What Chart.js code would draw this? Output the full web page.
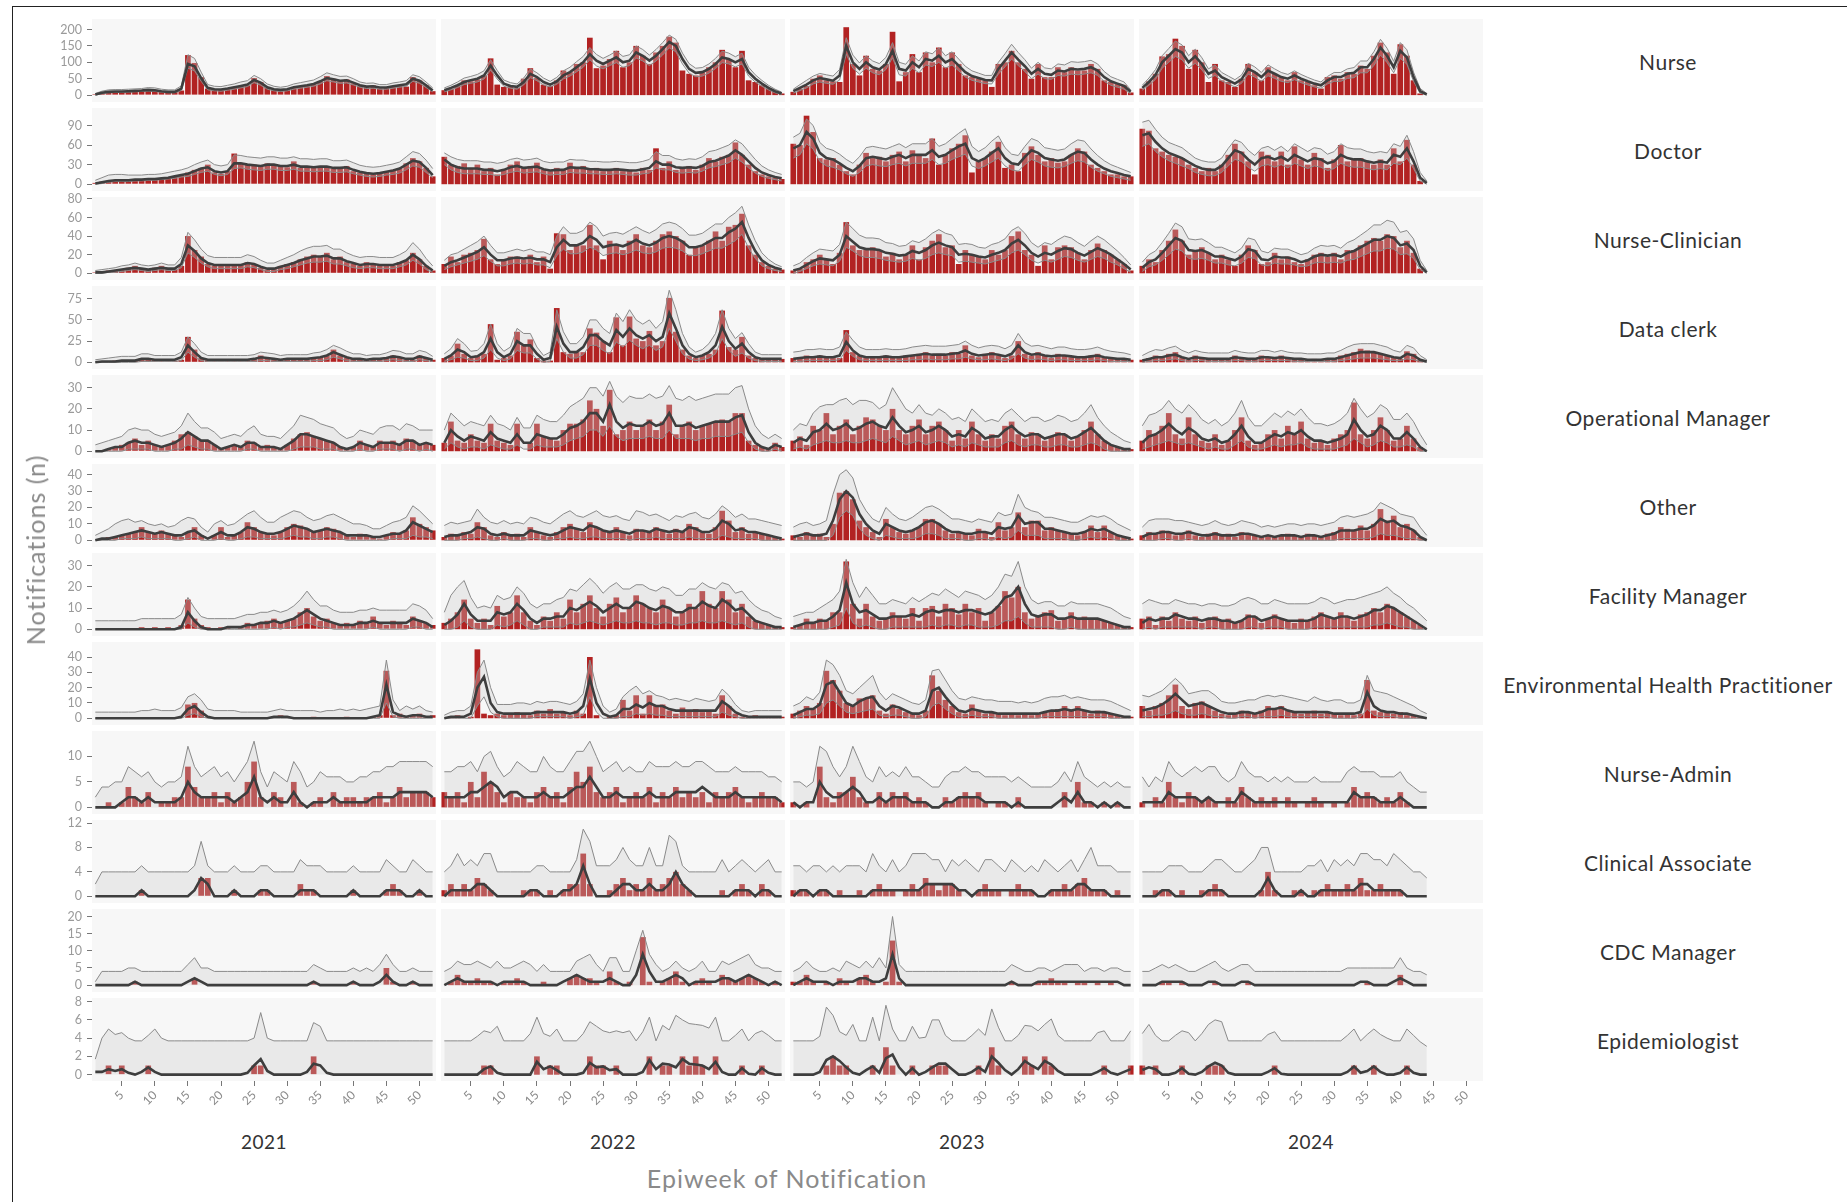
<!DOCTYPE html>
<html>
<head>
<meta charset="utf-8">
<script src="https://cdn.jsdelivr.net/npm/chart.js@4.4.1/dist/chart.umd.min.js"></script>
<style>
  body { margin: 0; background: #fff; font-family: Lato, "Open Sans", sans-serif; }
  #wrap { position: relative; width: 1847px; height: 1202px; overflow: hidden; }
  #wrap canvas { position: absolute; }
  .txt { position: absolute; white-space: nowrap; transform: translate(-50%, -50%); }
  .row-lbl { font-size: 21px; letter-spacing: 0.5px; color: #333; }
  .year-lbl { font-size: 19px; letter-spacing: 0.5px; color: #333; }
  .axis-title { font-size: 25px; letter-spacing: 1px; color: #8a8a8a; }
  #frame { position: absolute; left: 12px; top: 6px; width: 1900px; height: 1300px; border: 1px solid #222; }
</style>
</head>
<body>
<div id="wrap"><div id="frame"></div></div>
<script>
// facets
const rowNames = ['Nurse', 'Doctor', 'Nurse-Clinician', 'Data clerk', 'Operational Manager', 'Other',
  'Facility Manager', 'Environmental Health Practitioner', 'Nurse-Admin', 'Clinical Associate', 'CDC Manager', 'Epidemiologist'];
const yearNames = ['2021', '2022', '2023', '2024'];
const xTickLabels = [5, 10, 15, 20, 25, 30, 35, 40, 45, 50];
const weeks = Array.from({ length: 52 }, (_, i) => i + 1);

// weekly notifications (bars), fitted line, upper / lower band, one list per year
const nurseN = [
  [3,8,12,12,10,14,14,16,18,16,12,10,10,14,122,98,55,20,18,16,20,25,28,30,52,40,22,16,14,18,24,28,30,34,42,58,50,44,48,36,28,24,30,20,22,28,30,26,55,45,30,12],
  [15,20,30,45,42,48,60,112,32,25,28,22,50,82,52,32,28,45,75,70,95,100,175,82,90,110,135,85,100,150,120,95,130,150,178,160,75,65,60,70,85,100,138,110,85,135,45,40,30,20,12,5],
  [10,20,28,50,60,45,42,40,207,95,60,120,80,75,95,193,42,70,125,70,130,100,145,85,130,95,60,55,50,45,25,95,100,135,100,80,50,95,55,55,85,70,85,75,75,95,80,45,40,35,30,8],
  [20,42,65,118,125,172,150,80,138,100,40,95,45,40,25,50,95,70,45,85,65,55,45,70,45,40,30,20,55,60,50,70,65,90,80,120,160,130,65,155,120,45,5]
];
const nurseFit = [
  [2,7,10,11,11,12,13,14,16,15,12,10,10,20,95,88,52,22,18,17,20,24,28,32,46,38,24,18,16,18,24,27,30,34,42,52,48,44,45,38,30,26,27,23,23,27,30,33,50,44,30,14],
  [15,22,30,40,45,50,60,90,60,35,28,25,40,65,55,40,32,42,60,70,85,100,125,105,95,105,115,100,105,130,120,105,120,140,162,150,110,80,68,70,80,95,115,110,100,110,70,50,35,22,12,5],
  [12,22,32,45,52,48,44,60,150,100,80,100,85,78,95,135,80,75,100,85,110,105,120,100,110,90,70,58,52,46,45,80,105,130,108,88,65,80,65,62,75,72,80,78,80,85,75,55,42,35,28,10],
  [22,40,62,100,120,140,130,100,118,95,65,75,55,45,35,48,80,70,55,75,65,55,50,60,50,42,35,30,45,55,55,65,68,85,85,110,145,120,85,135,115,55,12,2]
];
const nurseHi = [
  [5,12,16,17,17,18,19,20,23,22,18,16,16,28,123,112,70,32,27,26,30,34,40,44,60,50,34,27,24,27,34,38,42,46,56,68,62,57,58,50,40,36,37,32,32,37,40,44,62,56,40,22],
  [22,30,40,52,57,63,74,108,75,46,38,34,52,80,68,52,42,54,74,85,102,118,145,124,112,122,134,118,123,150,139,122,139,160,183,170,128,96,82,84,95,112,134,128,117,128,85,62,45,30,18,9],
  [18,32,45,58,66,62,58,78,175,122,98,120,104,96,115,160,100,94,120,104,132,126,144,120,132,110,88,74,67,60,60,100,126,155,130,108,82,100,83,80,95,92,102,100,102,106,95,72,56,48,40,16],
  [30,52,78,120,142,165,153,120,140,114,80,92,69,58,47,61,97,86,69,92,80,69,63,74,63,54,46,40,57,69,69,80,84,104,104,132,170,143,103,160,138,70,20,5]
];
const nurseLo = [
  [0,4,7,8,8,9,10,11,12,11,9,7,7,14,82,74,42,16,13,12,15,18,22,26,38,30,18,13,11,13,18,21,24,27,34,44,40,36,37,31,24,20,21,18,18,21,24,27,42,36,23,10],
  [10,16,23,32,36,40,49,76,49,27,21,18,31,53,44,31,25,33,49,58,71,85,108,89,80,90,99,85,90,113,104,90,104,122,144,132,95,67,56,58,67,81,99,95,86,95,58,40,27,16,7,2],
  [6,14,22,34,40,36,33,46,125,82,64,82,68,62,78,114,62,58,82,68,92,87,100,82,92,74,55,45,40,35,34,64,86,110,90,72,50,64,50,48,60,58,64,62,64,68,60,42,30,24,18,4],
  [15,30,48,82,100,118,108,82,97,77,51,60,43,34,25,36,64,55,42,59,51,42,38,47,38,31,25,21,34,42,42,51,53,68,68,90,122,99,68,112,94,42,6,0]
];

const doctorN = [
  [2,4,5,6,5,6,7,6,8,7,9,10,12,14,18,22,25,30,18,16,20,47,32,30,30,28,32,30,28,26,35,25,28,26,28,27,24,26,28,20,18,16,15,18,20,22,24,32,40,35,25,12],
  [42,30,28,32,25,30,20,25,15,22,30,35,25,28,33,22,20,25,22,33,25,28,22,25,20,22,25,20,22,18,25,22,55,25,35,22,25,28,22,30,40,35,42,45,64,45,30,20,15,12,10,8],
  [62,60,105,80,40,38,40,30,20,15,30,48,40,42,35,45,50,35,52,45,40,70,30,45,55,62,75,18,35,40,50,65,25,30,20,48,58,45,35,40,33,35,45,55,50,30,25,20,15,15,12,12],
  [85,82,55,50,45,42,40,30,25,20,25,20,30,45,62,50,35,15,50,45,35,50,30,58,38,30,48,40,25,38,60,35,38,40,35,30,38,30,55,35,68,30,5]
];
const doctorFit = [
  [1,3,5,6,6,6,7,7,8,8,9,10,12,14,16,20,24,26,20,18,20,32,32,30,29,28,30,30,28,28,30,27,27,26,27,27,25,25,26,22,19,17,16,17,19,21,24,30,36,34,25,14],
  [38,30,26,24,24,24,22,22,20,22,26,28,25,26,27,23,21,22,22,26,25,25,23,23,22,22,23,22,21,21,23,25,35,30,30,26,25,26,25,28,34,36,40,44,52,45,35,25,18,14,11,9],
  [55,60,80,70,48,40,38,32,25,20,28,40,42,40,38,42,45,40,45,45,45,52,42,45,52,58,62,40,35,40,48,55,40,32,30,42,52,48,40,38,36,38,45,50,48,38,30,24,20,17,14,12],
  [75,78,65,55,48,44,40,34,28,24,22,22,28,40,52,48,38,30,40,42,38,42,36,45,40,35,40,38,32,35,45,40,38,38,35,33,35,33,45,42,55,35,10,2]
];
const doctorHi = [
  [6,10,14,15,15,14,14,14,15,15,16,18,20,22,25,30,34,37,30,28,30,45,44,42,41,40,42,42,40,40,42,39,39,38,39,39,36,36,37,33,29,27,26,27,29,31,34,42,50,47,37,24],
  [48,42,38,36,36,36,34,34,32,34,38,40,37,38,40,35,33,34,34,38,37,37,35,35,34,34,35,34,33,33,35,38,50,44,44,39,37,39,38,42,50,52,56,60,68,62,50,38,28,22,18,15],
  [72,78,100,90,64,55,52,46,38,32,42,56,58,56,54,58,62,56,62,62,62,70,58,62,70,78,85,58,50,56,66,74,56,46,44,58,70,66,56,54,52,54,62,68,66,54,44,36,30,26,22,18],
  [95,98,84,72,64,60,56,48,40,36,34,34,40,55,68,64,52,44,55,58,52,58,50,62,56,50,56,54,46,50,62,56,54,54,50,48,50,48,62,58,75,50,18,5]
];
const doctorLo = [
  [0,1,3,4,4,4,5,5,6,6,7,8,9,11,12,15,18,20,15,13,15,24,25,23,22,21,23,23,21,21,23,20,20,19,20,20,18,18,19,16,14,12,11,12,14,15,17,22,28,26,18,10],
  [30,22,18,16,16,16,15,15,13,15,18,20,17,18,19,16,14,15,15,18,17,17,16,16,15,15,16,15,14,14,16,17,25,22,22,18,17,18,17,20,25,27,30,33,40,34,25,17,12,9,7,5],
  [40,45,62,54,35,28,26,22,16,12,18,28,30,28,27,30,32,28,32,32,32,38,30,32,38,42,46,28,24,28,34,40,28,22,20,30,38,34,28,26,25,27,32,36,34,26,20,16,12,10,8,6],
  [58,62,50,42,36,32,28,24,18,15,13,13,18,28,38,35,26,20,28,30,26,30,25,32,28,24,28,26,21,24,32,28,26,26,24,22,24,22,32,30,40,24,5,0]
];

const ncN = [
  [1,2,3,3,4,6,8,5,4,6,8,5,4,8,40,25,18,10,8,9,10,8,9,12,10,6,4,5,8,10,12,15,18,20,18,22,15,18,12,10,8,12,10,8,10,8,12,14,22,15,8,3],
  [10,18,12,20,22,25,37,15,10,15,18,18,15,20,12,18,5,43,42,25,30,30,52,30,15,35,30,25,35,42,30,28,35,42,45,40,35,20,28,30,35,45,35,50,52,64,30,20,12,8,5,4],
  [3,5,12,15,20,15,10,22,55,30,25,25,28,25,18,22,15,20,30,15,28,35,42,28,30,10,25,20,18,15,25,20,25,40,45,25,20,8,30,15,28,30,28,22,15,25,32,25,20,15,10,3],
  [8,15,12,25,35,47,35,20,25,28,22,15,20,15,8,20,30,25,10,12,22,15,18,12,10,15,20,22,18,22,15,25,25,30,35,38,35,42,40,28,35,22,5]
];
const ncFit = [
  [1,1,2,3,4,5,6,5,4,5,6,5,5,10,30,24,16,11,9,9,9,9,9,11,10,7,5,5,7,9,11,14,16,18,18,19,16,16,13,11,9,10,10,9,9,9,11,14,20,15,8,3],
  [8,12,14,17,20,23,28,20,14,14,16,17,16,17,15,15,12,28,36,30,30,33,40,36,28,30,31,29,32,36,32,30,33,38,40,38,34,28,28,30,34,38,38,44,48,55,38,24,14,9,6,4],
  [3,5,9,13,16,15,14,20,40,34,28,26,26,25,22,21,19,20,24,22,25,30,33,30,28,20,21,20,18,17,20,22,25,32,36,30,22,18,22,20,24,27,26,22,19,23,27,24,20,15,10,4],
  [6,12,15,22,30,38,35,25,24,25,22,18,18,16,14,18,26,24,15,14,18,17,17,15,12,14,18,20,19,20,18,22,24,28,32,36,36,40,38,30,32,25,8,1]
];
const ncHi = [
  [3,4,5,6,8,9,11,9,8,9,11,9,9,17,44,36,26,19,17,17,17,17,17,20,18,14,11,11,14,17,20,24,27,29,29,30,26,26,22,19,17,18,18,17,17,17,20,24,33,26,16,8],
  [14,20,22,26,30,34,40,30,22,22,24,26,24,26,23,23,20,40,50,43,43,46,55,50,40,43,44,42,46,50,46,43,47,53,55,53,48,41,41,43,48,53,53,60,65,72,52,35,22,15,10,7],
  [8,11,17,22,26,25,24,31,55,48,41,38,38,37,33,32,29,30,35,33,37,43,47,43,41,31,32,31,28,27,31,33,37,46,50,43,33,28,33,31,36,40,38,33,29,35,40,36,30,24,17,9],
  [12,20,24,33,43,54,50,37,36,37,33,28,28,25,22,27,38,36,24,22,27,26,26,23,20,22,27,30,29,30,27,33,36,41,46,52,52,57,55,44,46,37,14,3]
];
const ncLo = [
  [0,0,1,1,2,3,4,3,2,3,4,3,3,6,22,17,11,7,5,5,5,5,5,7,6,4,2,2,4,5,7,9,11,12,12,13,10,10,8,6,5,6,6,5,5,5,7,9,14,10,4,1],
  [4,7,9,11,13,15,19,13,8,8,10,11,10,11,9,9,6,19,26,21,21,23,28,25,19,21,22,20,22,25,22,21,23,27,28,27,24,19,19,21,24,27,27,31,35,42,27,16,8,5,3,2],
  [0,2,5,8,10,9,8,13,28,24,19,17,17,16,14,13,12,13,16,14,16,20,22,20,19,12,13,12,11,10,12,14,16,22,25,20,14,11,14,12,15,18,17,14,12,15,18,16,12,9,5,1],
  [2,7,9,14,20,26,24,16,15,16,14,11,11,9,8,11,17,16,9,8,11,10,10,9,7,8,11,12,11,12,11,14,15,18,21,24,24,27,26,20,21,16,4,0]
];

const clerkN = [
  [0,1,1,2,2,1,2,5,5,3,2,3,2,3,30,15,5,3,2,3,2,3,2,3,4,8,4,3,3,4,5,4,3,5,6,8,15,8,5,4,3,3,4,3,5,8,5,3,3,8,5,3],
  [5,8,22,10,5,8,10,45,3,5,8,36,20,27,5,2,2,64,12,10,12,12,40,35,25,12,53,20,54,28,25,37,20,25,76,36,15,8,5,8,10,15,61,18,15,30,8,5,4,4,4,4],
  [5,5,8,5,8,6,5,5,38,12,8,5,6,5,8,6,5,8,8,10,12,8,10,8,12,10,20,8,6,10,12,8,5,8,25,10,8,12,8,5,10,8,6,5,6,8,10,5,4,4,4,3],
  [3,5,8,5,10,12,5,3,8,5,3,5,3,5,8,5,3,5,8,6,5,8,5,3,5,3,4,3,5,4,8,10,12,16,14,12,10,8,5,4,13,10,3]
];
const clerkFit = [
  [0,1,1,1,2,2,2,4,4,3,3,3,3,6,20,12,5,3,3,3,3,3,3,3,4,6,5,4,3,4,4,4,4,5,6,8,12,9,6,4,4,3,4,4,5,7,6,4,4,7,5,3],
  [4,8,15,12,6,7,12,28,12,6,10,25,20,20,10,3,5,42,22,12,12,18,32,32,25,20,38,30,40,32,28,32,25,30,58,40,20,10,6,8,12,20,42,25,16,22,12,6,4,4,4,4],
  [4,5,6,6,7,6,6,8,24,14,8,6,6,6,7,6,6,7,8,9,10,9,9,9,10,11,14,10,8,9,10,9,7,10,20,12,9,10,8,7,8,8,7,6,6,7,8,6,5,4,4,3],
  [2,4,6,6,8,9,6,4,6,5,4,4,4,4,6,5,4,4,6,6,5,6,5,4,4,3,3,3,4,4,6,8,10,12,12,12,10,8,6,5,10,8,3,1]
];
const clerkHi = [
  [3,4,5,6,7,7,7,10,10,8,8,8,8,12,30,22,12,8,8,8,8,8,8,8,9,12,11,10,8,9,9,9,9,11,12,15,20,17,13,10,10,8,9,9,11,14,13,10,10,14,12,7],
  [10,16,28,22,13,14,22,45,22,13,18,40,34,34,18,8,12,62,36,22,22,30,50,50,40,34,58,48,62,50,45,50,40,48,85,62,34,18,12,15,22,34,62,40,28,35,22,12,9,9,9,9],
  [12,13,15,15,16,15,15,18,36,26,18,15,15,15,16,15,15,16,18,19,20,19,19,19,20,21,25,20,17,19,20,19,16,20,34,23,19,20,18,16,18,18,16,15,15,16,18,15,13,12,11,9],
  [8,12,15,14,17,19,14,11,14,12,11,11,11,11,14,12,11,11,14,14,12,14,12,11,11,10,10,10,11,11,14,18,21,22,22,22,20,18,14,12,20,17,8,3]
];
const clerkLo = [
  [0,0,0,0,0,0,0,1,1,1,1,1,1,2,12,6,2,1,1,1,1,1,1,1,1,2,2,1,1,1,1,1,1,2,2,3,6,4,2,1,1,1,1,1,2,3,2,1,1,3,2,1],
  [1,3,6,5,2,2,5,15,5,2,4,14,11,11,4,0,1,28,12,5,5,9,20,20,14,10,24,18,26,20,16,20,14,18,40,25,10,4,2,3,5,10,28,14,7,11,5,2,1,1,1,1],
  [1,1,2,2,2,2,2,3,14,7,3,2,2,2,2,2,2,2,3,3,4,3,3,3,4,4,6,4,3,3,4,3,2,4,10,5,3,4,3,2,3,3,2,2,2,2,3,2,1,1,1,1],
  [0,1,2,2,3,4,2,1,2,2,1,1,1,1,2,2,1,1,2,2,2,2,2,1,1,1,1,1,1,1,2,3,4,5,5,5,4,3,2,2,4,3,1,0]
];

const opsN = [
  [0,0,1,2,3,4,6,3,5,3,2,3,5,8,9,7,5,5,3,1,2,3,2,5,4,2,3,2,1,3,6,8,9,7,6,5,4,2,1,2,5,3,2,5,4,5,3,6,5,3,4,3],
  [4,14,5,4,8,5,4,13,5,4,3,13,0,4,13,7,6,5,10,13,13,15,24,20,12,29,8,10,14,10,12,15,10,14,22,8,12,14,10,12,13,14,15,14,18,18,5,3,2,1,4,2],
  [5,7,3,12,10,18,8,12,15,8,12,16,15,12,10,20,10,8,12,15,8,12,14,10,5,10,6,14,8,5,8,6,12,14,8,6,9,8,5,7,9,8,5,7,10,14,8,5,3,2,1,1],
  [5,10,8,12,18,8,6,16,8,5,4,8,3,5,10,16,5,3,4,8,10,6,12,8,14,6,4,5,3,6,8,10,23,8,6,10,16,10,5,6,12,6,2]
];
const opsFit = [
  [0,0,1,2,2,4,5,4,4,3,2,3,4,6,9,7,5,5,3,1,2,3,2,4,4,2,2,2,1,3,5,8,8,7,6,5,4,2,1,2,4,3,2,4,4,4,3,5,5,3,4,3],
  [4,10,7,5,7,6,5,9,6,5,4,8,4,4,8,7,6,6,8,11,12,14,18,18,14,22,14,11,13,12,12,14,12,13,18,12,12,13,11,12,13,14,14,14,16,17,9,4,2,1,3,2],
  [4,6,5,9,10,13,10,11,13,10,11,13,14,12,11,16,12,9,10,12,9,10,12,10,7,8,7,11,9,6,7,7,10,12,9,7,8,8,6,7,8,8,6,7,9,11,8,5,3,2,1,1],
  [4,7,8,10,13,10,8,11,9,6,5,6,4,5,8,12,7,4,4,6,8,7,9,8,10,7,5,5,4,5,6,8,15,10,7,8,12,10,6,6,9,6,2,0]
];
const opsHi = [
  [3,4,5,6,7,10,11,10,10,8,7,8,9,12,18,14,11,11,9,6,7,8,7,10,12,8,7,7,6,9,12,17,16,15,13,12,11,8,6,7,10,9,8,11,12,12,10,13,12,10,10,10],
  [10,18,15,12,14,13,12,17,13,12,10,16,11,11,17,15,14,14,17,21,23,25,30,30,26,33,26,23,26,25,25,27,25,26,31,25,24,26,24,25,26,27,27,27,30,31,20,12,8,6,8,6],
  [10,13,12,18,21,22,22,24,25,22,24,24,23,20,22,30,25,20,18,22,18,17,20,18,15,16,14,20,17,14,15,14,18,20,17,14,16,16,14,15,17,16,14,15,18,22,16,12,9,7,5,4],
  [12,17,18,20,24,20,18,22,19,15,13,15,12,14,18,24,16,12,12,15,18,16,19,17,20,16,13,13,12,13,15,18,25,20,16,18,22,20,15,15,18,14,8,3]
];
const opsLo = [
  [0,0,0,0,0,1,1,1,1,0,0,0,1,1,3,2,1,1,0,0,0,0,0,1,1,0,0,0,0,0,1,2,2,2,1,1,1,0,0,0,1,0,0,1,1,1,0,1,1,0,1,0],
  [1,4,2,1,2,2,1,3,2,1,1,3,1,1,3,2,2,2,3,5,6,7,10,10,7,12,7,5,6,6,6,7,6,6,10,6,6,6,5,6,6,7,7,7,8,9,4,1,0,0,1,0],
  [1,2,1,3,4,5,4,4,5,4,4,5,6,5,4,7,5,3,4,5,3,4,5,4,2,3,2,4,3,2,2,2,4,5,3,2,3,3,2,2,3,3,2,2,3,4,3,1,0,0,0,0],
  [1,2,3,4,5,4,3,4,3,2,1,2,1,1,3,5,2,1,1,2,3,2,3,3,4,2,1,1,1,1,2,3,6,4,2,3,5,4,2,2,3,2,0,0]
];

const otherN = [
  [0,1,2,2,3,4,5,8,5,4,6,4,3,2,5,8,3,0,3,8,2,3,5,11,8,5,4,3,5,8,10,9,7,5,6,8,7,5,3,2,4,3,2,1,3,5,4,6,14,10,8,6],
  [2,4,3,5,4,11,8,3,2,5,3,4,2,8,5,3,2,5,8,10,7,5,11,8,6,5,8,5,3,7,6,5,8,6,4,7,5,10,8,5,4,8,18,12,5,8,4,5,4,3,2,1],
  [3,2,5,3,4,2,10,29,30,25,12,8,5,2,13,8,5,4,6,8,13,13,10,6,4,5,4,3,7,5,2,11,6,8,17,8,12,12,6,8,6,5,4,3,5,9,5,9,5,3,2,1],
  [3,5,4,6,5,3,4,6,3,2,4,5,3,4,2,5,4,3,2,3,2,3,4,3,2,4,3,2,4,5,8,7,6,9,6,10,19,12,15,8,10,6,2]
];
const otherFit = [
  [0,1,1,2,3,4,5,6,5,4,5,4,3,3,5,6,3,1,3,5,3,3,5,8,7,5,4,4,5,7,9,8,7,5,6,7,6,5,3,3,3,3,2,2,3,4,4,6,11,9,7,5],
  [2,3,3,4,5,8,7,4,3,4,3,3,3,6,5,4,3,4,6,8,7,6,9,8,6,5,6,5,4,6,6,5,7,6,5,6,5,8,7,5,5,7,12,10,6,7,5,5,4,3,2,1],
  [2,3,4,3,3,4,12,25,30,26,16,10,6,4,10,8,6,5,6,8,11,12,10,7,5,5,4,4,5,5,4,8,7,8,15,10,11,11,7,7,6,5,4,4,5,7,6,7,5,3,2,1],
  [2,4,4,5,5,4,4,5,4,3,3,4,3,3,3,4,4,3,2,3,2,3,3,3,2,3,3,2,3,4,6,6,6,7,7,9,13,11,12,9,8,6,2,0]
];
const otherHi = [
  [3,5,7,10,12,13,11,12,10,9,10,8,9,12,14,13,8,5,10,12,9,10,13,16,18,14,11,11,14,16,18,17,14,12,13,15,16,14,12,10,10,9,7,7,9,11,12,14,21,18,14,10],
  [9,11,10,11,12,19,14,11,10,12,10,11,10,14,13,11,10,13,16,18,15,14,16,18,15,14,15,13,12,18,17,15,16,14,12,15,14,16,17,14,13,16,21,18,14,16,13,13,12,11,10,9],
  [8,10,11,9,10,12,28,40,43,38,25,18,13,11,20,16,13,12,14,17,20,21,19,16,13,13,12,11,13,12,11,17,15,16,28,20,18,17,14,14,13,12,11,11,13,15,14,15,13,10,8,6],
  [8,12,13,13,13,12,12,11,10,9,10,12,10,9,10,12,11,10,8,9,8,9,10,10,9,10,10,9,10,11,14,15,14,15,16,18,23,21,19,16,15,14,8,3]
];
const otherLo = [
  [0,0,0,0,1,1,1,2,1,1,1,1,0,0,1,2,0,0,0,1,0,0,1,2,2,1,1,1,1,2,3,2,2,1,1,2,2,1,0,0,0,0,0,0,0,1,1,1,3,2,2,1],
  [0,0,0,1,1,2,1,0,0,1,0,0,0,1,1,0,0,1,1,2,1,1,2,2,1,1,1,1,0,1,1,1,2,1,1,1,1,2,1,1,1,1,3,2,1,1,1,1,0,0,0,0],
  [0,0,0,0,0,0,3,14,18,15,7,3,1,0,3,2,1,1,1,2,4,4,3,1,1,1,0,0,1,1,0,2,1,2,6,3,3,3,1,1,1,1,0,0,1,2,1,2,1,0,0,0],
  [0,0,0,1,1,0,0,1,0,0,0,0,0,0,0,0,0,0,0,0,0,0,0,0,0,0,0,0,0,0,1,1,1,1,1,2,4,3,3,2,1,1,0,0]
];

const facilityN = [
  [0,0,0,0,0,0,0,1,0,1,0,1,0,2,14,5,2,1,0,1,1,0,1,3,2,3,4,5,3,4,5,8,10,6,4,5,3,2,3,2,4,3,6,3,2,4,3,2,6,4,3,2],
  [3,5,8,14,5,3,5,2,11,6,8,16,8,4,2,6,4,8,5,14,8,12,16,10,6,12,15,8,10,16,12,10,8,14,10,6,8,12,10,18,12,10,18,14,8,12,6,4,3,2,1,1],
  [1,2,5,3,5,4,8,8,32,12,5,12,6,4,5,8,6,5,10,4,10,11,6,12,10,7,12,8,10,4,8,11,18,15,20,8,5,6,8,9,4,5,8,5,6,5,5,4,3,2,1,1],
  [5,6,2,6,4,8,5,4,6,3,5,6,4,5,3,4,7,6,3,5,7,5,4,3,5,4,6,8,6,5,8,6,4,7,8,10,8,12,10,8,6,4,2]
];
const facilityFit = [
  [0,0,0,0,0,0,0,0,0,0,0,0,0,1,8,4,1,0,0,0,1,1,1,2,2,3,3,4,3,4,5,7,9,7,5,4,3,2,2,2,3,3,4,3,3,3,3,3,5,4,3,1],
  [2,4,7,12,7,4,4,4,8,7,8,12,9,5,3,5,5,6,6,10,9,11,13,11,8,10,12,10,10,13,12,10,9,11,10,8,8,10,10,13,11,10,14,12,9,10,7,4,3,2,1,1],
  [1,2,3,3,4,4,6,9,22,12,8,9,7,5,5,6,6,6,7,6,8,9,8,9,9,8,9,9,8,7,8,11,15,16,20,12,7,6,7,7,5,5,6,5,5,5,5,4,3,2,1,1],
  [3,5,4,5,5,7,6,5,5,4,5,5,4,4,3,4,6,6,4,5,6,5,4,4,4,4,5,7,6,5,6,6,5,6,7,9,9,11,10,8,6,4,2,0]
];
const facilityHi = [
  [4,4,4,4,4,4,4,5,5,5,5,5,5,7,15,10,6,5,5,5,5,5,6,7,7,8,8,9,8,9,11,14,18,14,11,11,9,8,8,8,9,9,10,9,9,9,9,9,12,11,9,5],
  [8,16,20,23,15,10,11,10,16,14,15,20,17,12,10,12,12,14,15,19,18,21,24,21,17,20,22,19,19,21,21,19,18,20,19,16,16,19,19,22,20,19,22,21,17,18,14,11,9,8,6,5],
  [6,7,8,8,10,12,14,18,33,22,15,20,16,12,12,14,13,12,15,13,15,17,16,19,17,15,18,17,16,14,16,20,26,25,32,20,14,12,13,13,11,11,13,12,12,12,12,11,10,8,6,5],
  [12,14,13,12,12,14,13,12,12,11,12,12,11,11,12,14,15,14,12,12,14,13,12,12,12,12,13,15,14,12,13,14,14,15,16,17,18,20,17,15,12,10,7,4]
];
const facilityLo = [
  [0,0,0,0,0,0,0,0,0,0,0,0,0,0,3,1,0,0,0,0,0,0,0,0,0,0,0,1,0,1,1,2,3,2,1,1,0,0,0,0,0,0,1,0,0,0,0,0,1,1,0,0],
  [0,0,1,4,1,0,0,0,2,1,2,4,2,0,0,1,1,1,1,3,2,3,4,3,2,3,4,3,3,4,3,3,2,3,3,2,2,3,3,4,3,3,4,3,2,3,1,0,0,0,0,0],
  [0,0,0,0,0,0,1,2,10,3,1,2,1,0,0,1,1,1,1,1,1,2,1,2,2,1,2,2,1,1,1,2,4,4,6,3,1,1,1,1,0,0,1,0,0,0,0,0,0,0,0,0],
  [0,1,0,1,1,1,1,1,1,0,1,1,0,0,0,0,1,1,0,1,1,1,0,0,0,0,1,1,1,1,1,1,1,1,1,2,2,3,2,1,1,0,0,0]
];

const ehpN = [
  [0,0,0,0,0,0,0,0,0,0,0,0,0,0,9,10,5,1,0,0,0,0,0,0,0,0,0,1,2,0,0,0,0,1,0,0,0,0,1,0,0,0,1,2,31,2,3,1,2,3,1,2],
  [0,1,2,0,1,45,3,2,3,2,3,4,3,2,5,3,6,3,4,2,5,3,40,2,0,1,2,12,5,15,3,15,8,9,5,3,7,5,6,4,5,3,15,8,3,1,1,2,1,1,1,1],
  [3,5,8,6,10,31,25,18,10,8,13,13,15,5,3,9,6,4,3,2,5,28,18,12,8,4,3,9,5,3,4,3,2,3,2,3,2,3,4,5,6,8,5,8,5,3,5,4,3,2,1,1],
  [8,5,8,10,15,22,8,6,10,11,8,5,3,2,3,5,4,3,5,8,6,8,5,4,3,4,5,3,4,3,2,3,2,3,25,5,4,4,3,4,2,2,1]
];
const ehpFit = [
  [0,0,0,0,0,0,0,0,0,0,0,0,0,1,6,8,4,1,0,0,0,0,0,0,0,0,0,1,1,1,0,0,0,0,0,0,0,0,0,0,0,0,1,2,22,4,2,1,2,2,1,1],
  [0,1,1,1,3,20,27,10,4,3,3,3,3,3,4,4,4,4,4,3,4,8,26,10,3,1,2,6,6,9,7,10,8,8,6,5,5,5,5,5,5,5,11,8,4,2,1,1,1,1,1,1],
  [2,4,6,6,9,22,24,17,10,8,11,13,14,8,5,8,7,5,3,3,5,18,20,14,9,5,4,6,5,4,4,3,3,3,3,3,3,3,4,5,5,6,5,6,5,4,4,4,3,2,1,1],
  [5,6,7,9,12,16,12,8,9,10,8,6,4,3,3,4,4,3,4,6,6,7,5,4,4,4,4,4,4,3,3,3,3,4,17,8,5,4,4,3,3,2,1,0]
];
const ehpHi = [
  [4,4,4,4,4,4,4,5,5,6,5,5,5,7,14,16,12,6,5,5,5,5,4,4,4,4,4,5,6,5,5,5,5,5,4,5,5,6,5,6,5,6,7,8,38,12,5,8,6,8,5,4],
  [2,4,5,5,8,30,38,20,9,9,9,10,10,9,11,10,11,11,10,9,11,16,38,20,8,4,6,14,18,21,16,18,15,14,12,13,12,11,13,12,11,12,19,15,9,5,4,5,5,5,5,5],
  [8,10,14,12,17,38,35,28,18,16,20,24,28,17,12,16,14,12,10,9,12,31,32,25,18,13,12,14,13,12,12,11,11,11,10,11,10,11,13,14,14,15,13,14,13,12,12,12,11,9,7,5],
  [15,14,16,18,22,26,22,16,17,18,18,15,11,10,10,11,12,12,14,15,14,15,14,13,12,11,14,12,11,12,12,10,10,12,28,18,17,16,14,12,10,8,5,3]
];
const ehpLo = [
  [0,0,0,0,0,0,0,0,0,0,0,0,0,0,2,3,1,0,0,0,0,0,0,0,0,0,0,0,0,0,0,0,0,0,0,0,0,0,0,0,0,0,0,0,10,1,0,0,0,0,0,0],
  [0,0,0,0,0,8,14,4,1,0,0,0,0,0,1,1,1,1,1,0,1,2,14,4,0,0,0,1,1,3,2,3,2,2,1,1,1,1,1,1,1,1,4,2,1,0,0,0,0,0,0,0],
  [0,1,2,2,3,10,12,8,4,3,4,5,6,2,1,2,2,1,0,0,1,8,10,6,3,1,1,2,1,1,1,0,0,0,0,0,0,0,1,1,1,1,1,1,1,1,1,1,0,0,0,0],
  [1,1,2,2,3,5,3,2,2,3,2,1,1,0,0,1,1,0,1,1,1,2,1,1,1,1,1,1,1,0,0,0,0,1,6,2,1,1,1,0,0,0,0,0]
];

const adminN = [
  [0,0,1,0,1,4,2,1,3,0,1,1,2,2,8,4,2,2,3,1,3,1,2,5,9,2,0,3,2,0,5,1,0,1,2,0,3,1,2,2,1,2,2,3,1,2,4,2,3,3,3,2],
  [3,2,3,1,5,2,7,5,3,1,3,2,2,1,3,4,2,3,1,4,7,5,8,3,2,3,4,1,2,3,2,4,1,3,2,4,2,3,2,3,1,3,2,3,4,2,1,2,3,2,2,1],
  [1,0,1,0,8,2,1,3,3,6,2,1,0,3,1,3,2,3,1,2,1,0,0,2,1,2,3,2,3,1,0,1,1,0,2,0,0,0,0,0,0,3,0,5,1,1,0,1,0,1,0,0],
  [1,0,2,1,5,2,1,3,2,1,2,1,0,2,1,4,2,1,2,1,2,0,2,1,0,1,2,1,0,1,0,1,4,2,3,2,1,2,1,3,1,0,0]
];
const adminFit = [
  [0,0,0,0,1,2,2,1,2,1,1,1,1,2,5,3,2,2,2,2,2,1,2,3,6,2,1,2,1,1,3,1,0,1,1,1,2,1,1,1,1,1,2,2,2,2,3,3,3,3,3,2],
  [2,2,2,2,3,3,4,5,4,2,3,3,2,2,2,3,2,2,2,3,4,4,6,4,2,2,3,2,2,2,2,3,2,2,2,3,3,3,3,4,3,2,2,2,3,2,2,2,2,2,2,1],
  [1,0,1,1,5,3,2,2,3,4,3,1,1,2,1,2,2,2,1,1,1,0,0,1,1,2,2,2,2,1,1,1,1,0,1,0,0,0,0,0,1,2,1,3,1,1,0,1,0,1,0,0],
  [1,1,1,1,3,2,2,2,2,1,2,1,1,1,1,3,2,1,1,1,1,1,1,1,1,1,1,1,1,1,1,1,3,2,2,2,1,1,1,2,1,0,0,0]
];
const adminHi = [
  [2,4,4,5,5,8,7,6,7,5,4,5,5,6,12,8,6,7,8,6,7,5,7,9,13,7,4,7,6,5,9,7,4,5,7,6,6,6,5,5,6,6,7,7,8,8,9,9,9,9,9,8],
  [7,7,8,8,9,7,10,11,8,6,7,9,8,7,7,10,8,7,7,9,11,11,13,10,7,8,9,7,8,7,7,9,8,8,8,9,8,8,9,9,8,7,7,7,8,7,7,7,7,6,6,5],
  [5,5,4,5,12,11,8,6,8,12,9,6,5,8,6,7,6,8,6,6,5,4,4,6,7,7,8,7,7,6,6,6,6,5,6,5,4,4,4,4,5,7,5,9,6,5,4,5,4,5,4,4],
  [6,4,6,5,9,7,6,7,8,7,8,8,6,5,6,9,7,6,6,5,6,5,6,5,5,5,6,5,5,5,5,7,8,7,7,7,6,6,6,7,5,4,3,3]
];

const caN = [
  [0,0,0,0,0,0,0,1,0,0,0,0,0,0,0,0,3,3,0,0,0,1,0,0,0,1,1,0,0,0,0,2,1,1,0,0,0,0,0,1,0,0,0,0,1,2,1,0,0,1,0,0],
  [1,2,1,2,1,3,2,1,0,0,0,0,1,1,1,0,1,0,1,2,2,7,2,0,0,1,2,3,1,2,1,3,1,2,3,4,2,1,0,0,0,0,1,0,1,2,1,0,2,1,0,0],
  [1,1,1,0,1,1,0,1,0,0,1,0,1,2,1,1,0,1,2,1,3,2,1,2,2,1,0,0,1,2,1,1,0,1,2,1,1,0,0,1,1,2,1,2,3,1,1,1,0,1,0,0],
  [0,0,1,1,1,0,1,0,0,1,1,2,1,0,0,0,0,0,1,4,1,0,0,1,1,0,1,1,2,1,1,2,1,3,1,1,2,1,1,1,0,0,0]
];
const caFit = [
  [0,0,0,0,0,0,0,1,0,0,0,0,0,0,0,1,3,2,0,0,0,1,0,0,0,1,1,0,0,0,0,1,1,1,0,0,0,0,0,1,0,0,0,0,1,1,1,0,0,1,0,0],
  [0,1,1,1,1,2,2,1,0,0,0,0,0,1,1,0,0,0,1,1,2,5,2,0,0,0,1,2,2,1,1,2,1,1,2,4,2,1,0,0,0,0,0,0,1,1,1,0,1,1,0,0],
  [0,1,1,0,1,1,0,0,0,0,0,0,1,1,1,1,1,1,1,1,2,2,2,2,2,1,1,0,1,1,1,1,1,1,1,1,1,0,0,1,1,1,1,2,2,1,1,1,0,0,0,0],
  [0,0,0,1,1,0,0,0,0,0,1,1,1,0,0,0,0,0,1,3,1,0,0,0,1,0,0,1,1,1,1,1,1,2,2,1,1,1,1,1,0,0,0,0]
];
const caHi = [
  [2,4,4,4,4,4,4,5,4,4,4,4,4,4,4,5,9,5,4,4,4,5,4,4,4,5,5,4,4,4,4,6,5,5,5,4,4,4,4,5,4,4,4,4,6,5,4,4,6,5,4,4],
  [4,5,7,5,6,5,7,7,4,4,4,4,4,4,5,5,4,4,4,4,6,11,9,5,5,5,6,8,6,5,5,8,5,5,10,9,5,4,4,4,4,4,6,4,5,6,5,4,5,6,4,4],
  [5,5,4,5,5,4,5,4,5,5,5,4,7,5,4,6,4,5,7,7,7,6,6,4,6,5,6,5,4,6,6,5,4,6,5,4,5,4,6,5,4,5,6,4,6,8,5,5,5,4,4,4],
  [4,4,4,4,5,5,5,4,4,4,5,6,6,5,4,4,5,6,8,8,4,4,4,4,4,5,5,6,4,6,5,6,5,7,7,6,6,5,7,6,5,4,4,3]
];

const cdcN = [
  [0,0,0,0,0,0,1,0,0,0,0,0,0,0,0,2,0,0,0,0,0,0,0,0,0,0,0,0,0,0,0,0,0,1,0,0,0,0,0,1,0,0,0,0,5,1,0,0,1,0,0,0],
  [0,1,3,1,1,2,1,1,0,1,1,2,1,0,0,1,0,0,0,2,3,2,2,1,0,4,1,0,1,0,14,1,0,1,2,4,1,0,1,2,1,0,3,2,1,2,3,2,1,0,1,0],
  [1,1,3,1,0,1,0,2,1,0,2,3,1,0,1,13,1,0,0,0,0,0,0,0,0,0,0,0,0,0,0,0,0,1,0,0,0,1,1,2,1,1,0,1,1,0,1,0,1,0,0,0],
  [0,0,0,1,1,0,1,0,0,0,0,1,0,0,0,0,1,0,0,0,0,0,0,0,0,0,0,0,0,0,0,0,0,0,1,0,0,0,0,3,0,0,0]
];
const cdcFit = [
  [0,0,0,0,0,0,1,0,0,0,0,0,0,0,1,2,1,0,0,0,0,0,0,0,0,0,0,0,0,0,0,0,0,1,0,0,0,0,0,1,0,0,0,1,3,1,0,0,1,0,0,0],
  [0,1,2,1,1,1,1,1,0,1,1,1,1,0,0,0,0,0,1,2,3,2,1,1,1,2,1,0,0,3,9,4,1,1,2,3,2,0,1,1,1,1,2,2,1,2,3,2,1,0,1,0],
  [0,1,2,1,1,1,0,1,1,1,2,2,1,1,2,9,2,0,0,0,0,0,0,0,0,0,0,0,0,0,0,0,0,1,0,0,0,1,1,1,1,1,1,1,1,1,1,1,1,1,0,0],
  [0,0,0,1,1,1,1,0,0,0,1,1,0,0,0,1,1,0,0,0,0,0,0,0,0,0,0,0,0,0,0,0,0,1,1,0,0,0,1,2,1,0,0,0]
];
const cdcHi = [
  [1,4,4,4,4,5,5,4,4,4,4,4,4,4,6,8,5,5,4,4,4,4,4,4,4,4,4,4,4,4,4,4,4,6,5,4,4,4,4,5,4,5,4,6,9,6,4,4,5,4,4,4],
  [4,5,7,6,6,7,6,5,7,5,5,6,7,6,4,6,4,4,4,4,7,8,9,6,4,8,8,4,4,10,16,9,6,4,5,7,5,4,5,7,4,4,7,6,7,8,9,6,5,5,4,4],
  [4,5,7,5,4,4,5,4,7,6,5,7,5,8,5,20,6,4,4,4,4,4,4,4,4,4,4,4,4,4,4,4,4,6,5,4,4,5,5,4,5,6,6,6,4,5,5,4,5,5,4,4],
  [4,4,5,6,5,6,5,4,4,5,6,7,5,4,5,6,6,4,4,4,4,4,4,4,4,4,4,4,4,4,4,5,5,5,5,5,5,5,5,8,5,4,4,3]
];

const epiN = [
  [0,0,1,0,1,0,0,0,1,0,0,0,0,0,0,0,0,0,0,0,0,0,0,0,1,1,0,0,0,0,0,0,0,2,0,0,0,0,0,0,0,0,0,0,0,0,0,0,0,0,0,0],
  [0,0,0,0,0,0,1,1,0,0,0,0,0,0,2,0,1,1,0,0,0,0,2,1,1,0,1,0,0,0,0,2,0,1,1,0,2,1,2,1,0,2,0,0,0,1,0,0,1,0,0,0],
  [0,0,0,0,0,1,2,1,1,0,0,0,1,0,3,1,0,0,1,0,0,1,1,1,0,0,0,0,1,0,3,1,0,0,0,2,1,0,2,1,0,0,0,0,0,0,0,1,0,0,0,1],
  [1,0,1,0,0,0,1,0,0,0,1,1,1,0,0,0,0,0,0,0,1,0,0,0,0,0,0,0,0,0,0,0,1,0,0,1,0,0,0,0,1,0,0]
];
const epiFit = [
  [0.3,0.3,0.6,0.4,0.6,0.2,0,0.3,0.8,0.3,0,0,0,0,0,0,0,0,0,0,0,0,0,0.2,1,1.7,0.4,0,0,0,0,0,0.3,1.2,1,0.2,0,0,0,0,0,0,0,0,0,0,0,0,0,0,0,0],
  [0,0,0,0,0,0,0.6,0.9,0.2,0,0,0,0,0,1.4,0.6,0.9,0.5,0,0,0,0.2,1.3,0.8,0.9,0.5,0.6,0,0,0,0.3,1.6,0.6,1.2,1.1,0.8,1.7,1.2,1.1,1,0.6,1.4,0.3,0,0,0.7,0.1,0,0.7,0.2,0,0],
  [0,0,0,0,0.3,1.6,2,1.5,0.8,0.2,0,0.5,0.9,0.2,1.8,2.2,0.8,0,0.7,0,0.3,0.8,1.2,1.2,0.6,0,0,0.3,0.8,0.3,2,1.3,0.5,0,0.6,1.5,1,0.6,1.5,1.1,0.4,0,0,0,0,0,0.3,0.7,0.2,0,0.3,0.6],
  [0.5,0.8,0.6,0,0,0.2,0.7,0.1,0,0.3,0.9,1.3,1,0.2,0,0,0,0,0,0.3,0.7,0.1,0,0,0,0,0,0,0,0,0,0.3,0.9,0.2,0.4,0.9,0.3,0,0,0.2,0.8,0.2,0,0]
];
const epiHi = [
  [1.7,4,5,4.4,4.6,4,3.7,3.7,4.3,5,4,3.7,3.7,3.7,3.7,3.7,3.7,3.7,3.7,3.7,3.7,3.7,3.7,3.7,4,6.8,4,3.7,3.7,3.7,3.7,3.7,3.7,5.7,5.3,3.7,3.7,3.7,3.7,3.7,3.7,3.7,3.7,3.7,3.7,3.7,3.7,3.7,3.7,3.7,3.7,3.7],
  [3.7,3.7,3.7,3.7,3.7,4.2,4.8,4.6,5.3,3.7,3.7,3.7,3.7,4.5,6.3,4.5,4.2,5,3.7,3.7,3.7,4.5,5.8,5.3,4.8,4.6,4.8,4.6,4.8,3.7,4.7,6.3,3.7,5.4,4.9,6.5,6,5.6,5.5,5.4,5.1,6.3,3.7,3.7,4.3,5,3.7,4.5,4.8,4.3,3.7,3.7],
  [3.7,3.7,3.7,3.7,4.2,7.4,6.5,4.7,4.3,5.5,3.7,3.7,6.3,3.7,7.6,5,3.7,3.7,5.3,4,4.1,6,6,4.3,3.7,3.7,3.7,4.3,5,4.3,7.2,5.2,3.7,3.7,4.3,5.4,5.3,4.8,5.5,6.1,4.3,3.7,3.7,3.7,3.7,3.7,4.6,4.8,3.7,3.7,3.7,4.8],
  [4.5,5.5,4.3,3.7,3.7,4.3,4.8,4.6,3.7,4.5,5.5,6,5.8,3.7,3.7,3.7,3.7,3.7,3.7,4.4,4.7,3.7,3.7,3.7,3.7,3.7,3.7,3.7,3.7,3.7,3.7,4.3,5,3.7,4.4,5,4.4,4,3.7,3.7,5,4.3,3.6,3.1]
];

// y axis ticks per facet
const nurseTicks = [0, 50, 100, 150, 200];
const doctorTicks = [0, 30, 60, 90];
const ncTicks = [0, 20, 40, 60, 80];
const clerkTicks = [0, 25, 50, 75];
const opsTicks = [0, 10, 20, 30];
const otherTicks = [0, 10, 20, 30, 40];
const facilityTicks = [0, 10, 20, 30];
const ehpTicks = [0, 10, 20, 30, 40];
const adminTicks = [0, 5, 10];
const caTicks = [0, 4, 8, 12];
const cdcTicks = [0, 5, 10, 15, 20];
const epiTicks = [0, 2, 4, 6, 8];

// table for the loop (lo == null -> band filled down to 0)
const facets = [
  { n: nurseN, fit: nurseFit, hi: nurseHi, lo: nurseLo, ticks: nurseTicks, min: -21, max: 232 },
  { n: doctorN, fit: doctorFit, hi: doctorHi, lo: doctorLo, ticks: doctorTicks, min: -10.4, max: 116.8 },
  { n: ncN, fit: ncFit, hi: ncHi, lo: ncLo, ticks: ncTicks, min: -7.2, max: 82 },
  { n: clerkN, fit: clerkFit, hi: clerkHi, lo: clerkLo, ticks: clerkTicks, min: -7.9, max: 90 },
  { n: opsN, fit: opsFit, hi: opsHi, lo: opsLo, ticks: opsTicks, min: -3.2, max: 36 },
  { n: otherN, fit: otherFit, hi: otherHi, lo: otherLo, ticks: otherTicks, min: -4.1, max: 46.5 },
  { n: facilityN, fit: facilityFit, hi: facilityHi, lo: facilityLo, ticks: facilityTicks, min: -3.2, max: 36 },
  { n: ehpN, fit: ehpFit, hi: ehpHi, lo: ehpLo, ticks: ehpTicks, min: -4.4, max: 49.8 },
  { n: adminN, fit: adminFit, hi: adminHi, lo: null, ticks: adminTicks, min: -1.3, max: 15 },
  { n: caN, fit: caFit, hi: caHi, lo: null, ticks: caTicks, min: -1.1, max: 12.5 },
  { n: cdcN, fit: cdcFit, hi: cdcHi, lo: null, ticks: cdcTicks, min: -2, max: 22.2 },
  { n: epiN, fit: epiFit, hi: epiHi, lo: null, ticks: epiTicks, min: -0.7, max: 8.4 }
];

// geometry
const PW = 344, PH = 83;
const COL_LEFT = [92, 441, 790, 1139];
const TOP0 = 19, STEP = 89;
const YAX = 50, XAX = 36, PAD = 8;

Chart.defaults.font.family = 'Lato, "Open Sans", sans-serif';

const panelBg = {
  id: 'panelBg',
  beforeDraw(chart) {
    const a = chart.chartArea;
    const ctx = chart.ctx;
    ctx.save();
    ctx.fillStyle = '#f7f7f7';
    ctx.fillRect(a.left, a.top, a.right - a.left, a.bottom - a.top);
    ctx.restore();
  }
};

const wrap = document.getElementById('wrap');

function addText(cls, text, x, y, extra) {
  const d = document.createElement('div');
  d.className = 'txt ' + cls;
  d.textContent = text;
  d.style.left = x + 'px';
  d.style.top = y + 'px';
  if (extra) d.style.transform = extra;
  wrap.appendChild(d);
}

facets.forEach((f, r) => {
  yearNames.forEach((yr, c) => {
    const first = c === 0;
    const last = r === facets.length - 1;
    const cv = document.createElement('canvas');
    cv.width = PW + (first ? YAX : 0);
    cv.height = PAD + PH + (last ? XAX : PAD);
    cv.style.left = (COL_LEFT[c] - (first ? YAX : 0)) + 'px';
    cv.style.top = (TOP0 + STEP * r - PAD) + 'px';
    wrap.appendChild(cv);

    const ds = [
      { type: 'bar', data: f.n[c], backgroundColor: '#b22222', barPercentage: 0.86, categoryPercentage: 1, order: 5 },
      { type: 'line', data: f.hi[c], borderColor: '#8a8a8a', borderWidth: 1, pointRadius: 0,
        backgroundColor: 'rgba(205,205,205,0.32)', fill: f.lo ? 2 : 'origin', order: 4 }
    ];
    if (f.lo) {
      ds.push({ type: 'line', data: f.lo[c], borderColor: '#8a8a8a', borderWidth: 1, pointRadius: 0, fill: false, order: 3 });
    }
    ds.push({ type: 'line', data: f.fit[c], borderColor: '#3e3e3e', borderWidth: 2.6, pointRadius: 0, fill: false, order: 1 });

    new Chart(cv, {
      type: 'bar',
      data: { labels: weeks, datasets: ds },
      plugins: [panelBg],
      options: {
        responsive: false,
        animation: false,
        events: [],
        layout: { padding: { top: PAD, bottom: last ? 0 : PAD, left: 0, right: 0 } },
        plugins: { legend: { display: false }, tooltip: { enabled: false } },
        scales: {
          x: {
            type: 'category',
            offset: true,
            display: last,
            border: { display: false },
            grid: {
              drawOnChartArea: false, offset: false, tickLength: 5,
              color: ctx => xTickLabels.includes(ctx.index + 1) ? '#777' : 'rgba(0,0,0,0)'
            },
            ticks: {
              autoSkip: false, minRotation: 45, maxRotation: 45, padding: 2,
              color: '#8a8a8a', font: { size: 12 },
              callback: v => xTickLabels.includes(weeks[v]) ? String(weeks[v]) : ''
            },
            afterFit: s => { if (last) { s.height = XAX; s.paddingLeft = 0; s.paddingRight = 0; } }
          },
          y: {
            min: f.min,
            max: f.max,
            display: first,
            border: { display: false },
            grid: { drawOnChartArea: false, tickLength: 5, color: '#777' },
            ticks: { autoSkip: false, padding: 5, color: '#9a9a9a', font: { size: 12.5 } },
            afterBuildTicks: s => { s.ticks = f.ticks.map(v => ({ value: v })); },
            afterFit: s => { if (first) { s.width = YAX; s.paddingTop = 0; s.paddingBottom = 0; } }
          }
        }
      }
    });
  });
  addText('row-lbl', rowNames[r], 1668, TOP0 + STEP * r + PH / 2);
});

yearNames.forEach((yr, c) => addText('year-lbl', yr, COL_LEFT[c] + PW / 2, 1141));
addText('axis-title', 'Epiweek of Notification', 787, 1178);
addText('axis-title', 'Notifications (n)', 35, 550, 'translate(-50%, -50%) rotate(-90deg)');
</script>
</body>
</html>
